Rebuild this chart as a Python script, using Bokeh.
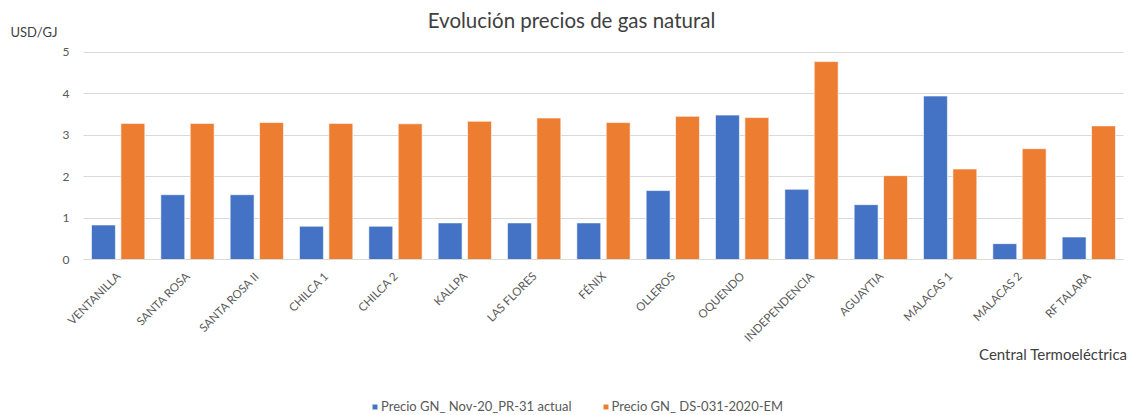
from math import pi
from bokeh.plotting import figure
from bokeh.models import (ColumnDataSource, Range1d, Legend, LegendItem, FixedTicker,
                          Label, LinearAxis, BoxAnnotation)
from bokeh.transform import dodge
from bokeh.embed import file_html
from bokeh.resources import INLINE

categories = ["VENTANILLA", "SANTA ROSA", "SANTA ROSA II", "CHILCA 1", "CHILCA 2",
              "KALLPA", "LAS FLORES", "FÉNIX", "OLLEROS", "OQUENDO",
              "INDEPENDENCIA", "AGUAYTIA", "MALACAS 1", "MALACAS 2", "RF TALARA"]
precio_actual = [0.84, 1.57, 1.57, 0.81, 0.81, 0.89, 0.89, 0.89, 1.67, 3.49,
                 1.70, 1.33, 3.95, 0.39, 0.55]
precio_ds = [3.29, 3.29, 3.31, 3.29, 3.28, 3.34, 3.42, 3.31, 3.46, 3.43,
             4.78, 2.03, 2.19, 2.68, 3.23]
y_ticks = [0, 1, 2, 3, 4, 5]
series_names = ["Precio GN_ Nov-20_PR-31 actual", "Precio GN_ DS-031-2020-EM"]
colors = ["#4472C4", "#ED7D31"]

FONT = "Lato"
TEXT = "#595959"
DARK = "#404040"
GRID = "#d9d9d9"
W, H = 1139, 415

positions = list(range(len(categories)))
first, last = positions[0] - 0.5, positions[-1] + 0.5
src = ColumnDataSource(dict(pos=positions, cat=categories,
                            a=precio_actual, b=precio_ds))

# the frame fills the whole figure; axes are pinned inside it
p = figure(x_range=Range1d(-1.697, 14.731), y_range=Range1d(-3.755, 6.254),
           width=W, height=H, output_backend="svg", toolbar_location=None,
           min_border_left=0, min_border_right=0, min_border_top=0,
           min_border_bottom=0)
p.outline_line_color = None

r1 = p.vbar(x=dodge("pos", -0.212), top="a", width=0.345, source=src,
            fill_color=colors[0], line_color="white", line_alpha=0.6)
r2 = p.vbar(x=dodge("pos", 0.212), top="b", width=0.345, source=src,
            fill_color=colors[1], line_color="white", line_alpha=0.6)

p.xgrid.grid_line_color = None
yg = p.ygrid[0]
yg.ticker = FixedTicker(ticks=y_ticks)
yg.grid_line_color = GRID
yg.grid_line_width = 1
if "cross_bounds" in yg.properties():
    yg.cross_bounds = (first, last)
else:
    for box in (BoxAnnotation(right=first), BoxAnnotation(left=last)):
        box.fill_color = "white"
        box.fill_alpha = 1
        box.line_color = None
        box.level = "underlay"
        p.add_layout(box)

yax = p.yaxis[0]
yax.fixed_location = first
yax.ticker = FixedTicker(ticks=y_ticks)
yax.axis_line_color = None
yax.major_tick_line_color = None
yax.major_tick_out = 0
yax.minor_tick_line_color = None
yax.minor_tick_out = 0
yax.major_label_standoff = 14
yax.major_label_text_font = FONT
yax.major_label_text_font_size = "12px"
yax.major_label_text_color = TEXT

# unit label beside the top of the value axis
unit_axis = LinearAxis(fixed_location=first, ticker=FixedTicker(ticks=[5.5]),
                       major_label_overrides={5.5: "USD/GJ"},
                       axis_line_color=None, major_tick_line_color=None,
                       major_tick_out=0, minor_tick_line_color=None, minor_tick_out=0,
                       major_label_standoff=26, major_label_text_font=FONT,
                       major_label_text_font_size="13px", major_label_text_color=DARK)
p.add_layout(unit_axis, "left")

xax = p.xaxis[0]
xax.fixed_location = 0
xax.bounds = (first, last)
xax.ticker = FixedTicker(ticks=positions)
xax.major_label_overrides = {i: c for i, c in zip(positions, categories)}
xax.axis_line_color = GRID
xax.major_tick_line_color = None
xax.major_tick_out = 0
xax.minor_tick_line_color = None
xax.minor_tick_out = 0
xax.major_label_orientation = pi / 4
xax.major_label_standoff = 14
xax.major_label_text_font = FONT
xax.major_label_text_font_size = "11.5px"
xax.major_label_text_color = TEXT

p.add_layout(Label(x=571, y=H - 19, x_units="screen", y_units="screen",
                   text="Evolución precios de gas natural", text_align="center",
                   text_baseline="middle", text_font=FONT, text_font_size="20.5px",
                   text_color=DARK))
p.add_layout(Label(x=1127, y=H - 353, x_units="screen", y_units="screen",
                   text="Central Termoeléctrica", text_align="right",
                   text_baseline="middle", text_font=FONT, text_font_size="15px",
                   text_color=DARK))

legend = Legend(items=[LegendItem(label=series_names[0], renderers=[r1]),
                       LegendItem(label=series_names[1], renderers=[r2])],
                orientation="horizontal", location=(371, 1),
                glyph_width=7, glyph_height=7, label_standoff=3, spacing=30,
                padding=0, margin=0, border_line_color=None,
                background_fill_alpha=0, label_text_font=FONT,
                label_text_font_size="13px", label_text_color=TEXT,
                label_height=13)
p.add_layout(legend)

open("out.html", "w").write(file_html(p, INLINE))
